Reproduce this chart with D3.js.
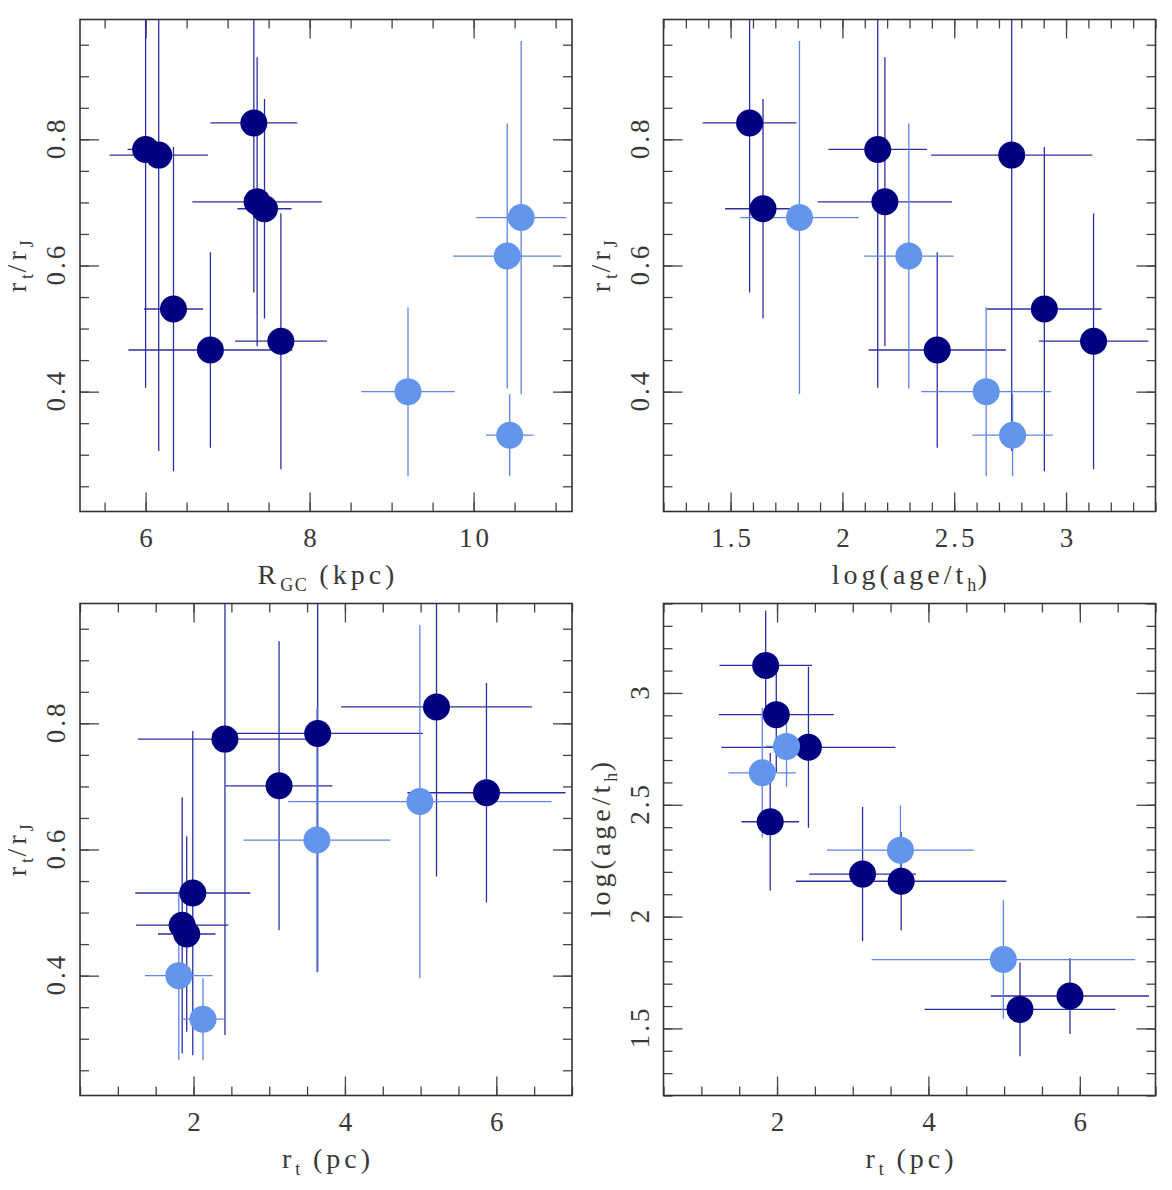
<!DOCTYPE html>
<html>
<head>
<meta charset="utf-8">
<script src="https://cdn.jsdelivr.net/npm/d3@7"></script>
<style>
  body { margin: 0; background: #fff; }
  text { font-family: "Liberation Serif", "DejaVu Serif", serif; fill: #383838; white-space: pre; }
</style>
</head>
<body>
<script>
// clusters: 8 inner-disk (dark) and 4 outer-disk (light)
const group     = ["inner","inner","inner","inner","inner","inner","inner","inner","outer","outer","outer","outer"];
const rgc       = [7.32, 6.00, 6.16, 7.36, 7.45, 6.34, 7.65, 6.79, 10.58, 10.41, 9.20, 10.44];
const rgcErr    = [0.53, 0.22, 0.60, 0.79, 0.33, 0.36, 0.56, 1.00, 0.55, 0.66, 0.57, 0.29];
const ratio     = [0.826, 0.784, 0.775, 0.701, 0.690, 0.531, 0.480, 0.466, 0.676, 0.615, 0.400, 0.331];
const ratioErr  = [0.269, 0.378, 0.469, 0.229, 0.174, 0.257, 0.203, 0.155, 0.280, 0.210, 0.134, 0.065];
const logAge    = [1.585, 2.158, 2.757, 2.190, 1.645, 2.903, 3.123, 2.424, 1.808, 2.297, 2.643, 2.761];
const logAgeErr = [0.21, 0.22, 0.36, 0.30, 0.17, 0.256, 0.245, 0.307, 0.265, 0.20, 0.29, 0.18];
const rt        = [5.21, 3.64, 2.415, 3.13, 5.87, 1.99, 1.85, 1.91, 4.99, 3.63, 1.805, 2.125];
const rtErr     = [1.26, 1.39, 1.15, 0.705, 1.045, 0.76, 0.61, 0.38, 1.74, 0.97, 0.447, 0.274];

// tick labels
const rgcTicks   = [6, 8, 10];
const ageTicks   = [1.5, 2, 2.5, 3];
const rtTicks    = [2, 4, 6];
const ratioTicks = [0.4, 0.6, 0.8];

let width = 1172;
let height = 1190;
let size = 492;

let fill = { inner: "#000080", outer: "#6495ed" };
let barColor = { inner: "#2e2ea4", outer: "#5f84e8" };

let svg = d3.select("body").append("svg")
  .attr("width", width)
  .attr("height", height);

// title pieces: [text, isSubscript]
let ratioTitle = [["r"], ["t", 1], ["/r"], ["J", 1]];
let ageTitle = [["log(age/t"], ["h", 1], [")"]];
let rtTitle = [["r"], ["t", 1], [" (pc)"]];
let rgcTitle = [["R"], ["GC", 1], [" (kpc)"]];

let panels = [
  { left: 80, top: 19.5, xs: rgc, xe: rgcErr, ys: ratio, ye: ratioErr,
    xDom: [5.2, 11.2], yDom: [0.21, 0.99], xMajor: rgcTicks, xMinor: 0.5,
    yMajor: ratioTicks, yMinor: 0.05, xTitle: rgcTitle, yTitle: ratioTitle, yShift: 0 },
  { left: 663.5, top: 19.5, xs: logAge, xe: logAgeErr, ys: ratio, ye: ratioErr,
    xDom: [1.2, 3.4], yDom: [0.21, 0.99], xMajor: ageTicks, xMinor: 0.1,
    yMajor: ratioTicks, yMinor: 0.05, xTitle: ageTitle, yTitle: ratioTitle, yShift: 0 },
  { left: 80, top: 603.5, xs: rt, xe: rtErr, ys: ratio, ye: ratioErr,
    xDom: [0.5, 7.0], yDom: [0.21, 0.99], xMajor: rtTicks, xMinor: 0.5,
    yMajor: ratioTicks, yMinor: 0.05, xTitle: rtTitle, yTitle: ratioTitle, yShift: 0 },
  { left: 663.5, top: 603.5, xs: rt, xe: rtErr, ys: logAge, ye: logAgeErr,
    xDom: [0.5, 7.0], yDom: [1.2, 3.4], xMajor: rtTicks, xMinor: 0.5,
    yMajor: ageTicks, yMinor: 0.1, xTitle: rtTitle, yTitle: ageTitle, yShift: -12 },
];

let steps = (dom, step) =>
  d3.range(Math.ceil(dom[0] / step - 1e-9), Math.floor(dom[1] / step + 1e-9) + 1)
    .map((i) => +(i * step).toFixed(4));

let addTitle = (t, parts) => {
  parts.forEach(([str, sub], i) => {
    let prev = i > 0 && parts[i - 1][1];
    t.append("tspan")
      .attr("font-size", sub ? 18 : 28)
      .attr("dy", sub ? 7 : prev ? -7 : 0)
      .attr("letter-spacing", sub ? 1.5 : 4)
      .text(str);
  });
};

let styleAxis = (g) => {
  g.select(".domain").remove();
  g.selectAll(".tick line").attr("stroke", "#444").attr("stroke-width", 1.3);
};

panels.forEach((p, k) => {
  let x = d3.scaleLinear().domain(p.xDom).range([0, size]);
  let y = d3.scaleLinear().domain(p.yDom).range([size, 0]);
  let g = svg.append("g").attr("transform", `translate(${p.left},${p.top})`);

  g.append("clipPath").attr("id", "clip" + k)
    .append("rect").attr("width", size).attr("height", size);

  let xMinor = steps(p.xDom, p.xMinor);
  let yMinor = steps(p.yDom, p.yMinor);

  // ticks on all four sides, pointing inwards
  g.append("g").attr("transform", `translate(0,${size})`)
    .call(d3.axisBottom(x).tickValues(xMinor).tickSize(-9).tickFormat("")).call(styleAxis);
  g.append("g").attr("transform", `translate(0,${size})`)
    .call(d3.axisBottom(x).tickValues(p.xMajor).tickSize(-19).tickPadding(16)
      .tickFormat((d) => String(d)))
    .call(styleAxis)
    .call((a) => a.selectAll("text").attr("font-size", 27).attr("fill", "#383838")
      .attr("letter-spacing", 3).attr("dx", 1.5));
  g.append("g")
    .call(d3.axisTop(x).tickValues(xMinor).tickSize(-9).tickFormat("")).call(styleAxis);
  g.append("g")
    .call(d3.axisTop(x).tickValues(p.xMajor).tickSize(-19).tickFormat("")).call(styleAxis);
  g.append("g")
    .call(d3.axisLeft(y).tickValues(yMinor).tickSize(-9).tickFormat("")).call(styleAxis);
  g.append("g")
    .call(d3.axisLeft(y).tickValues(p.yMajor).tickSize(-19).tickFormat("")).call(styleAxis);
  g.append("g").attr("transform", `translate(${size},0)`)
    .call(d3.axisRight(y).tickValues(yMinor).tickSize(-9).tickFormat("")).call(styleAxis);
  g.append("g").attr("transform", `translate(${size},0)`)
    .call(d3.axisRight(y).tickValues(p.yMajor).tickSize(-19).tickFormat("")).call(styleAxis);

  // rotated y tick labels
  g.selectAll(".ylab")
    .data(p.yMajor)
    .enter()
    .append("text")
    .attr("class", "ylab")
    .attr("transform", (d) => `translate(-15,${y(d)}) rotate(-90)`)
    .attr("text-anchor", "middle")
    .attr("dx", 1.5)
    .attr("font-size", 27)
    .attr("letter-spacing", 3)
    .text((d) => String(d));

  // frame
  g.append("rect")
    .attr("width", size)
    .attr("height", size)
    .attr("fill", "none")
    .attr("stroke", "#333")
    .attr("stroke-width", 1.6);

  // axis titles
  let xt = g.append("text")
    .attr("x", size / 2 + 2)
    .attr("y", size + 72)
    .attr("text-anchor", "middle");
  addTitle(xt, p.xTitle);
  let yt = g.append("text")
    .attr("transform", `translate(-54,${size / 2 + p.yShift}) rotate(-90)`)
    .attr("text-anchor", "middle");
  addTitle(yt, p.yTitle);

  let pts = group.map((grp, i) => ({ grp, x: p.xs[i], xe: p.xe[i], y: p.ys[i], ye: p.ye[i] }));
  let plot = g.append("g").attr("clip-path", `url(#clip${k})`);

  ["inner", "outer"].forEach((grp) => {
    let sub = pts.filter((d) => d.grp === grp);
    let bars = plot.append("g")
      .attr("stroke", barColor[grp])
      .attr("stroke-width", 1.3);
    bars.selectAll(".xe")
      .data(sub)
      .enter()
      .append("line")
      .attr("x1", (d) => x(d.x - d.xe))
      .attr("x2", (d) => x(d.x + d.xe))
      .attr("y1", (d) => y(d.y))
      .attr("y2", (d) => y(d.y));
    bars.selectAll(".ye")
      .data(sub)
      .enter()
      .append("line")
      .attr("x1", (d) => x(d.x))
      .attr("x2", (d) => x(d.x))
      .attr("y1", (d) => y(d.y - d.ye))
      .attr("y2", (d) => y(d.y + d.ye));
  });

  ["inner", "outer"].forEach((grp) => {
    plot.selectAll(".dot-" + grp)
      .data(pts.filter((d) => d.grp === grp))
      .enter()
      .append("circle")
      .attr("cx", (d) => x(d.x))
      .attr("cy", (d) => y(d.y))
      .attr("r", 13.5)
      .attr("fill", fill[grp]);
  });
});
</script>
</body>
</html>
